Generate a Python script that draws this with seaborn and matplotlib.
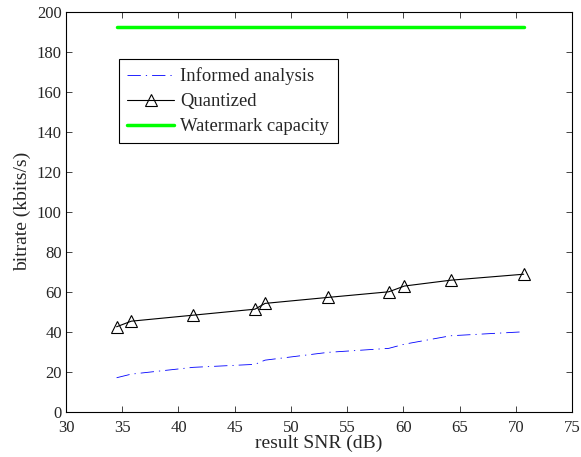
import matplotlib
matplotlib.use("Agg")
import matplotlib.pyplot as plt
import seaborn as sns
import pandas as pd

snr = [34.5, 35.8, 41.3, 46.8, 47.7, 53.3, 58.7, 60.1, 64.2, 70.7]
quantized = [42.5, 45.3, 48.3, 51.3, 54.2, 57.2, 60.0, 62.9, 65.8, 68.8]
informed = [17.0, 18.8, 22.2, 23.7, 25.8, 29.7, 31.7, 33.8, 38.0, 40.0]
capacity = [192.3] * len(snr)

sns.set_style("ticks")
plt.rcParams['font.family'] = ['Liberation Serif', 'DejaVu Serif']
plt.rcParams['xtick.direction'] = 'in'
plt.rcParams['ytick.direction'] = 'in'

df = pd.DataFrame({"snr": snr, "quantized": quantized, "informed": informed, "capacity": capacity})

fig = plt.figure(figsize=(5.81, 4.57), dpi=100)
ax = fig.add_axes([0.1136, 0.0991, 0.8710, 0.8746])

sns.lineplot(data=df, x="snr", y="informed", ax=ax, color="#0000ff", lw=0.6,
             linestyle=(0, (16, 6, 1.5, 6)), label="Informed analysis")
sns.lineplot(data=df, x="snr", y="quantized", ax=ax, color="black", lw=0.8,
             marker="^", markersize=8, markerfacecolor="none", markeredgecolor="black",
             markeredgewidth=0.8, label="Quantized")
sns.lineplot(data=df, x="snr", y="capacity", ax=ax, color="#00ff00", lw=2.5,
             label="Watermark capacity")

ax.set_xlim(30, 75)
ax.set_ylim(0, 200)
ax.set_xticks(range(30, 76, 5))
ax.set_yticks(range(0, 201, 20))
ax.tick_params(axis='both', labelsize=12, top=True, right=True, length=4, width=0.6)
ax.tick_params(axis='x', pad=6)
ax.tick_params(axis='y', pad=3)
for s in ax.spines.values():
    s.set_linewidth(0.8)
    s.set_color("black")
ax.set_xlabel("result SNR (dB)", fontsize=14, labelpad=-1)
ax.set_ylabel("bitrate (kbits/s)", fontsize=14, labelpad=4)

leg = ax.legend(loc="upper left", bbox_to_anchor=(0.1047, 0.882), fontsize=13.4,
                frameon=True, fancybox=False, edgecolor="black", framealpha=1,
                handlelength=2.5, borderpad=0.45, labelspacing=0.42, handletextpad=0.35,
                borderaxespad=0)
leg.get_frame().set_linewidth(0.8)

fig.savefig("out.png", dpi=100)
